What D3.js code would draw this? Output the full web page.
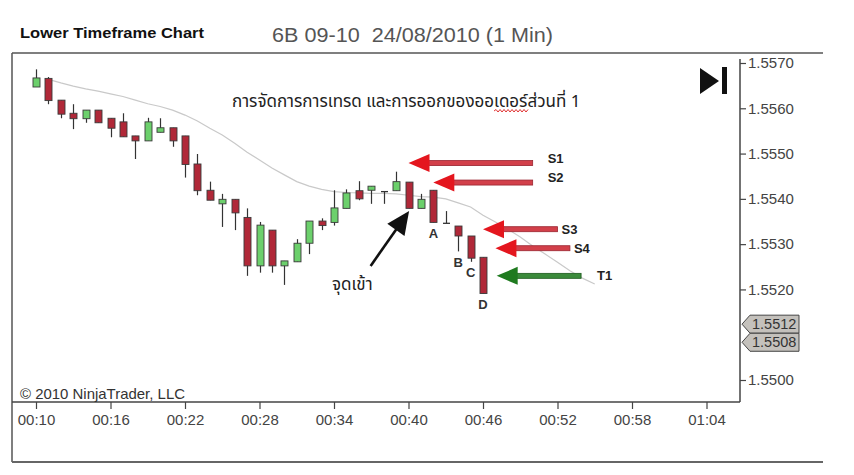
<!DOCTYPE html>
<html><head><meta charset="utf-8">
<script src="https://cdn.jsdelivr.net/npm/d3@7"></script>
<style>body{margin:0;background:#fff} svg{display:block}</style>
</head><body>
<svg id="c" width="854" height="475"></svg>
<script>
// ---------- DATA ----------
const minutes = [10,11,12,13,14,15,16,17,18,19,20,21,22,23,24,25,26,27,28,29,30,31,32,33,34,35,36,37,38,39,40,41,42,43,44,45,46];
const opens  = [1.55647,1.55666,1.55618,1.55589,1.55577,1.55596,1.55578,1.55570,1.55539,1.55528,1.55547,1.55557,1.55539,1.55477,1.55419,1.55389,1.55399,1.55359,1.55252,1.55331,1.55252,1.55261,1.55302,1.55351,1.55348,1.55379,1.55418,1.55419,1.55416,1.55418,1.55437,1.55379,1.55419,1.55346,1.55340,1.55318,1.55271];
const highs  = [1.55686,1.55669,1.55618,1.55609,1.55596,1.55596,1.55578,1.55589,1.55539,1.55579,1.55578,1.55557,1.55539,1.55499,1.55438,1.55411,1.55399,1.55379,1.55349,1.55331,1.55263,1.55311,1.55351,1.55357,1.55419,1.55421,1.55439,1.55428,1.55416,1.55460,1.55437,1.55411,1.55419,1.55373,1.55340,1.55318,1.55271];
const lows   = [1.55647,1.55609,1.55578,1.55554,1.55568,1.55568,1.55536,1.55537,1.55488,1.55528,1.55547,1.55515,1.55447,1.55408,1.55397,1.55338,1.55331,1.55230,1.55237,1.55237,1.55210,1.55261,1.55278,1.55331,1.55341,1.55379,1.55397,1.55389,1.55389,1.55418,1.55379,1.55379,1.55348,1.55346,1.55284,1.55261,1.55191];
const closes = [1.55667,1.55617,1.55587,1.55577,1.55596,1.55568,1.55556,1.55537,1.55528,1.55570,1.55557,1.55528,1.55476,1.55418,1.55397,1.55399,1.55369,1.55252,1.55342,1.55252,1.55263,1.55302,1.55351,1.55341,1.55380,1.55413,1.55400,1.55428,1.55416,1.55438,1.55379,1.55399,1.55348,1.55346,1.55318,1.55269,1.55191];

const maMinutes = [11,12,13,14,15,16,17,18,19,20,21,22,23,24,25,26,27,28,29,30,31,32,33,34,35,36,37,38,39,40,41,42,43,44,45,46,47,48,49,50,51,52,53,54,55];
const maValues  = [1.55664,1.55656,1.55649,1.55643,1.55638,1.55632,1.55626,1.55618,1.55610,1.55604,1.55596,1.55585,1.55572,1.55556,1.55541,1.55523,1.55503,1.55486,1.55468,1.55453,1.55438,1.55428,1.55421,1.55416,1.55414,1.55413,1.55412,1.55412,1.55411,1.55408,1.55405,1.55404,1.55400,1.55391,1.55382,1.55364,1.55349,1.55333,1.55316,1.55296,1.55278,1.55260,1.55241,1.55225,1.55212];

const xTickMinutes = [10,16,22,28,34,40,46,52,58,64];
const xTickLabels  = ["00:10","00:16","00:22","00:28","00:34","00:40","00:46","00:52","00:58","01:04"];
const yTickValues  = [1.5570,1.5560,1.5550,1.5540,1.5530,1.5520,1.5500];

const priceTags = [1.5512, 1.5508];

const levelNames   = ["S1","S2","S3","S4","T1"];
const levelPrices  = [1.55479,1.55436,1.55333,1.55291,1.55230];
const levelTips    = [40.0,42.0,46.0,47.0,47.1];
const levelTails   = [50.0,50.0,52.0,53.0,53.9];
const levelKinds   = ["stop","stop","stop","stop","target"];

const barLabels       = ["A","B","C","D"];
const barLabelMinutes = [42,44,45,46];

const titleLeft  = "Lower Timeframe Chart";
const titleMain  = "6B 09-10  24/08/2010 (1 Min)";
const thaiTitleParts = ["การจัดการการเทรด และการออกของออ","เดอร์","ส่วนที่ 1"];
const entryText  = "จุดเข้า";
const entryArrow = {fromMinute:36.95, fromPrice:1.55252, toMinute:40.05, toPrice:1.55373};
const copyright  = "© 2010 NinjaTrader, LLC";

// ---------- CHART ----------
const svg = d3.select("#c");
const L = 12, R = 740, T = 53, B = 402;
const x = d3.scaleLinear().domain([10,64]).range([36,706.5]);
const y = d3.scaleLinear().domain([1.5500,1.5570]).range([380,63]);
const FONT = "'Liberation Sans', Arial, sans-serif";
const THAI = "'Noto Sans Thai','Noto Sans Thai UI','Tlwg Typo','Loma','Garuda','Tahoma','Noto Sans',sans-serif";

// frame
svg.append("line").attr("x1",L).attr("x2",823).attr("y1",T).attr("y2",T).attr("stroke","#555").attr("stroke-width",1.5);
svg.append("line").attr("x1",L).attr("x2",L).attr("y1",T).attr("y2",462).attr("stroke","#555").attr("stroke-width",1.5);
svg.append("line").attr("x1",L).attr("x2",823).attr("y1",462).attr("y2",462).attr("stroke","#666").attr("stroke-width",2);

// titles
svg.append("text").attr("x",20).attr("y",38).attr("font-family",FONT).attr("font-weight","bold").attr("font-size",15)
  .attr("textLength",184).attr("lengthAdjust","spacingAndGlyphs").attr("fill","#111").text(titleLeft);
svg.append("text").attr("x",272).attr("y",42).attr("font-family",FONT).attr("font-size",20).attr("fill","#555")
  .attr("xml:space","preserve").style("white-space","pre")
  .attr("textLength",281).attr("lengthAdjust","spacingAndGlyphs").text(titleMain);

// axes
svg.append("line").attr("x1",R).attr("x2",R).attr("y1",59).attr("y2",B).attr("stroke","#444").attr("stroke-width",1.5);
svg.append("line").attr("x1",L).attr("x2",R).attr("y1",B).attr("y2",B).attr("stroke","#444").attr("stroke-width",1.5);

const yAxis = svg.append("g").attr("transform",`translate(${R},0)`)
  .call(d3.axisRight(y).tickValues(yTickValues).tickSize(6).tickPadding(2).tickFormat(d3.format(".4f")));
yAxis.select(".domain").remove();
yAxis.selectAll("line").attr("stroke","#444").attr("stroke-width",1.2);
yAxis.selectAll("text").attr("font-family",FONT).attr("font-size",15).attr("fill","#444");

const xAxis = svg.append("g").attr("transform",`translate(0,${B})`)
  .call(d3.axisBottom(x).tickValues(xTickMinutes).tickSize(7).tickPadding(5).tickFormat((d,i)=>xTickLabels[i]));
xAxis.select(".domain").remove();
xAxis.selectAll("line").attr("stroke","#444").attr("stroke-width",1.2);
xAxis.selectAll("text").attr("font-family",FONT).attr("font-size",15).attr("fill","#444");

// copyright
svg.append("text").attr("x",20).attr("y",399).attr("font-family",FONT).attr("font-size",14.5).attr("fill","#333")
  .attr("textLength",165).attr("lengthAdjust","spacingAndGlyphs").text(copyright);

// play-to-end icon
svg.append("path").attr("d","M700,68 L719,81 L700,94 Z").attr("fill","#111");
svg.append("rect").attr("x",722).attr("y",67).attr("width",5).attr("height",27).attr("fill","#111");

// Thai title
const tt = svg.append("text").attr("x",232).attr("y",107).attr("font-family",THAI).attr("font-size",17).attr("fill","#222");
const tspans = thaiTitleParts.map(t => tt.append("tspan").text(t));
const midBox = tspans[1].node().getBBox();
{
  let d = `M${midBox.x},${111}`;
  let up = true;
  for (let xx = midBox.x + 2; xx <= midBox.x + midBox.width; xx += 2) { d += ` L${xx},${up?109.5:112}`; up = !up; }
  svg.append("path").attr("d",d).attr("fill","none").attr("stroke","#e03030").attr("stroke-width",1);
}

// moving average
svg.append("path").datum(maMinutes.map((m,i)=>[m,maValues[i]]))
  .attr("d", d3.line().x(d=>x(d[0])).y(d=>y(d[1])))
  .attr("fill","none").attr("stroke","#c9c9c9").attr("stroke-width",1.2);

// candles
const candles = minutes.map((m,i)=>({m,o:opens[i],h:highs[i],l:lows[i],c:closes[i]}));
const g = svg.append("g");
const bw = 7;
candles.forEach(d=>{
  const cx = Math.round(x(d.m)) + 0.5;
  g.append("line").attr("x1",cx).attr("x2",cx).attr("y1",y(d.h)).attr("y2",y(d.l)).attr("stroke","#333").attr("stroke-width",1.2);
  const top = y(Math.max(d.o,d.c)), bot = y(Math.min(d.o,d.c));
  const up = d.c > d.o, flat = d.c === d.o;
  if (flat) {
    g.append("line").attr("x1",cx-bw/2).attr("x2",cx+bw/2).attr("y1",top).attr("y2",top).attr("stroke","#333").attr("stroke-width",1.3);
  } else {
    g.append("rect").attr("x",cx-bw/2).attr("y",top).attr("width",bw).attr("height",Math.max(bot-top,1.5))
      .attr("fill", up ? "#6cd06c" : "#b02838").attr("stroke","#3a3a3a").attr("stroke-width",0.9);
  }
});

// bar labels A-D
barLabels.forEach((t,i)=>{
  const idx = minutes.indexOf(barLabelMinutes[i]);
  const low = lows[idx];
  svg.append("text").attr("x",x(barLabelMinutes[i])).attr("y",y(low)+11).attr("dy","0.36em").attr("text-anchor","middle")
    .attr("font-family",FONT).attr("font-weight","bold").attr("font-size",13).attr("fill","#333").text(t);
});

// level arrows
levelNames.forEach((nm,i)=>{
  const yy = y(levelPrices[i]);
  const tip = x(levelTips[i]), tail = x(levelTails[i]);
  const stop = levelKinds[i]==="stop";
  const head = stop ? "#e4161e" : "#1f7a1f";
  const shaft = stop ? "#d2404a" : "#3b8a3b";
  const edge = stop ? "#9a2430" : "#1d5a1d";
  svg.append("rect").attr("x",tip+16).attr("y",yy-2.5).attr("width",tail-tip-16).attr("height",5)
    .attr("fill",shaft).attr("stroke",edge).attr("stroke-width",0.8);
  svg.append("path").attr("d",`M${tip},${yy} L${tip+21},${yy-9} L${tip+21},${yy+9} Z`).attr("fill",head);
  const lx = stop ? (i<2 ? tail+15 : tail+4) : tail+16;
  const ly = i<2 ? yy-5 : yy;
  svg.append("text").attr("x",lx).attr("y",ly).attr("dy","0.35em").attr("font-family",FONT).attr("font-weight","bold")
    .attr("font-size",13).attr("fill","#222").text(nm);
});

// entry arrow
{
  const x1 = x(entryArrow.fromMinute), y1 = y(entryArrow.fromPrice);
  const x2 = x(entryArrow.toMinute),   y2 = y(entryArrow.toPrice);
  const dx = x2-x1, dy = y2-y1, len = Math.hypot(dx,dy), ux = dx/len, uy = dy/len;
  const hl = 23, hw = 10.5;
  const bx = x2-ux*hl, by = y2-uy*hl;
  svg.append("line").attr("x1",x1).attr("y1",y1).attr("x2",bx+ux*2).attr("y2",by+uy*2).attr("stroke","#111").attr("stroke-width",2.6);
  svg.append("path").attr("d",`M${x2},${y2} L${bx-uy*hw},${by+ux*hw} L${bx+uy*hw},${by-ux*hw} Z`).attr("fill","#111");
  svg.append("text").attr("x",332).attr("y",290).attr("font-family",THAI).attr("font-size",17).attr("fill","#222").text(entryText);
}

// price tags
priceTags.forEach((p,i)=>{
  const cy = y(p) - 1.5;
  const h = 18, x0 = 742, xb = 750, xr = 799;
  svg.append("path").attr("d",`M${x0},${cy} L${xb},${cy-h/2} L${xr},${cy-h/2} L${xr},${cy+h/2} L${xb},${cy+h/2} Z`)
    .attr("fill","#c4c1bc").attr("stroke","#444").attr("stroke-width",1);
  svg.append("text").attr("x",752).attr("y",cy).attr("dy","0.35em").attr("font-family",FONT).attr("font-size",14.5).attr("fill","#333").text(d3.format(".4f")(p));
});
</script>
</body></html>
